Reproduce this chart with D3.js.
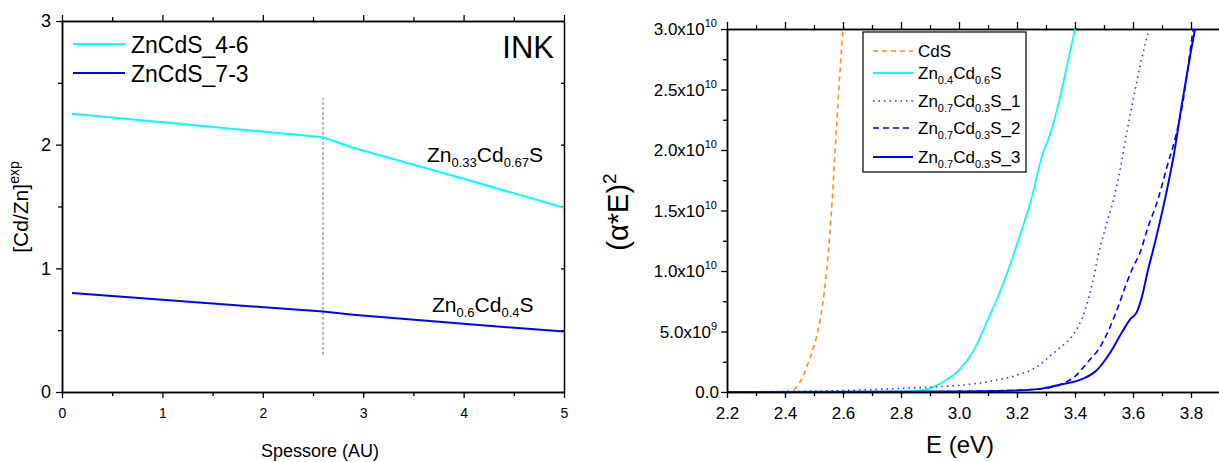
<!DOCTYPE html>
<html><head><meta charset="utf-8">
<script src="https://cdn.jsdelivr.net/npm/d3@7"></script>
<style>body{margin:0;background:#fff} svg{display:block} text{font-family:Arial,"Liberation Sans",sans-serif;fill:#000}</style>
</head><body><svg id="c" width="1219" height="462"></svg>
<script>
// ---------- LEFT CHART DATA ----------
const thickness = [0.1, 2.6, 2.9, 4.0, 5.0];
const ratio46 = [2.25, 2.06, 1.975, 1.725, 1.49];
const ratio73 = [0.80, 0.65, 0.625, 0.551, 0.489];
const leftSeries = ["ZnCdS_4-6", "ZnCdS_7-3"];
const leftXTicks = [0, 1, 2, 3, 4, 5];
const leftYTicks = [0, 1, 2, 3];
const markerX = 2.6, markerY = [0.3, 2.38];

// ---------- RIGHT CHART DATA (values in 1e10 units) ----------
const eCdS = [2.40, 2.42, 2.44, 2.46, 2.48, 2.50, 2.52, 2.54, 2.56, 2.57, 2.58, 2.59, 2.60];
const vCdS = [0, 0.005, 0.04, 0.12, 0.24, 0.38, 0.58, 0.92, 1.48, 1.88, 2.28, 2.66, 3.0];
const eZn4 = [2.2, 2.6, 2.8, 2.86, 2.9, 2.95, 3.0, 3.05, 3.1, 3.15, 3.2, 3.25, 3.29, 3.31, 3.34, 3.37, 3.40];
const vZn4 = [0, 0.003, 0.005, 0.01, 0.03, 0.09, 0.18, 0.34, 0.6, 0.88, 1.22, 1.6, 1.98, 2.1, 2.35, 2.67, 3.0];
const eZn7a = [2.2, 2.4, 2.6, 2.8, 2.9, 3.0, 3.1, 3.2, 3.27, 3.31, 3.35, 3.39, 3.435, 3.46, 3.48, 3.51, 3.538, 3.555, 3.578, 3.6, 3.624, 3.652];
const vZn7a = [0, 0.005, 0.012, 0.03, 0.04, 0.055, 0.085, 0.14, 0.21, 0.29, 0.37, 0.46, 0.68, 0.9, 1.13, 1.4, 1.64, 1.83, 2.14, 2.41, 2.69, 2.97];
const eZn7b = [2.2, 2.8, 3.0, 3.2, 3.3, 3.348, 3.405, 3.445, 3.486, 3.514, 3.548, 3.578, 3.6, 3.624, 3.65, 3.686, 3.717, 3.75, 3.773, 3.79, 3.807];
const vZn7b = [0, 0.002, 0.005, 0.015, 0.03, 0.06, 0.14, 0.25, 0.37, 0.50, 0.70, 0.90, 1.03, 1.15, 1.35, 1.59, 1.86, 2.14, 2.41, 2.69, 3.0];
const eZn7c = [2.2, 2.8, 3.0, 3.2, 3.29, 3.348, 3.428, 3.475, 3.52, 3.561, 3.59, 3.613, 3.631, 3.652, 3.669, 3.71, 3.74, 3.77, 3.80, 3.814];
const vZn7c = [0, 0.002, 0.004, 0.012, 0.03, 0.06, 0.11, 0.18, 0.32, 0.49, 0.60, 0.66, 0.79, 1.01, 1.17, 1.59, 1.95, 2.4, 2.82, 3.0];
const rightXTicks = [2.2, 2.4, 2.6, 2.8, 3.0, 3.2, 3.4, 3.6, 3.8];
const rightYTicks = [0, 0.5, 1.0, 1.5, 2.0, 2.5, 3.0];
const rightYLabels = [["0.0", ""], ["5.0x10", "9"], ["1.0x10", "10"], ["1.5x10", "10"], ["2.0x10", "10"], ["2.5x10", "10"], ["3.0x10", "10"]];
const rightLegend = [
  {parts: [["CdS", 0]]},
  {parts: [["Zn", 0], ["0.4", 1], ["Cd", 0], ["0.6", 1], ["S", 0]]},
  {parts: [["Zn", 0], ["0.7", 1], ["Cd", 0], ["0.3", 1], ["S_1", 0]]},
  {parts: [["Zn", 0], ["0.7", 1], ["Cd", 0], ["0.3", 1], ["S_2", 0]]},
  {parts: [["Zn", 0], ["0.7", 1], ["Cd", 0], ["0.3", 1], ["S_3", 0]]}
];

const svg = d3.select("#c");

function richText(g, x, y, parts, size, subSize, anchor) {
  const t = g.append("text").attr("x", x).attr("y", y).attr("font-size", size);
  if (anchor) t.attr("text-anchor", anchor);
  let prev = 0;
  parts.forEach(([s, k]) => {
    const off = k === 1 ? 5 : (k === 2 ? -8 : 0);
    t.append("tspan").attr("dy", off - prev).attr("font-size", k ? subSize : size).text(s);
    prev = off;
  });
  return t;
}

// ================= LEFT CHART =================
const lx = d3.scaleLinear().domain([0, 5]).range([62, 564]);
const ly = d3.scaleLinear().domain([0, 3]).range([392, 21]);
const L = svg.append("g");

function styleAxis(g) {
  g.selectAll("path.domain").attr("stroke", "#000").attr("stroke-width", 1.5);
  g.selectAll(".tick line").attr("stroke", "#000").attr("stroke-width", 1.3);
}
// bottom
L.append("g").attr("transform", "translate(0,392)")
  .call(d3.axisBottom(lx).tickValues(d3.range(0.5, 5, 1)).tickSize(4).tickFormat("").tickSizeOuter(0)).call(styleAxis);
L.append("g").attr("transform", "translate(0,392)")
  .call(d3.axisBottom(lx).tickValues(leftXTicks).tickSize(6).tickPadding(10).tickFormat(d3.format("d")).tickSizeOuter(0))
  .call(styleAxis).call(g => g.selectAll("text").attr("font-size", 14).attr("font-family", "Arial, Liberation Sans, sans-serif"));
// top
L.append("g").attr("transform", "translate(0,21)")
  .call(d3.axisTop(lx).tickValues(d3.range(0.5, 5, 1)).tickSize(4).tickFormat("").tickSizeOuter(0)).call(styleAxis);
L.append("g").attr("transform", "translate(0,21)")
  .call(d3.axisTop(lx).tickValues(leftXTicks).tickSize(6).tickFormat("").tickSizeOuter(0)).call(styleAxis);
// left
L.append("g").attr("transform", "translate(62,0)")
  .call(d3.axisLeft(ly).tickValues(d3.range(0.5, 3, 1)).tickSize(4).tickFormat("").tickSizeOuter(0)).call(styleAxis);
L.append("g").attr("transform", "translate(62,0)")
  .call(d3.axisLeft(ly).tickValues(leftYTicks).tickSize(6).tickPadding(5).tickFormat(d3.format("d")).tickSizeOuter(0))
  .call(styleAxis).call(g => g.selectAll("text").attr("font-size", 18).attr("font-family", "Arial, Liberation Sans, sans-serif"));
// right (inward ticks)
L.append("g").attr("transform", "translate(564,0)")
  .call(d3.axisLeft(ly).tickValues(d3.range(0, 3.01, 0.5)).tickSize(3).tickFormat("").tickSizeOuter(0)).call(styleAxis);

// vertical marker
L.append("line").attr("x1", lx(markerX)).attr("x2", lx(markerX)).attr("y1", ly(markerY[0])).attr("y2", ly(markerY[1]))
  .attr("stroke", "#777").attr("stroke-width", 1).attr("stroke-dasharray", "3,2");

const lline = d3.line().x((d, i) => lx(thickness[i])).y(d => ly(d));
L.append("path").attr("d", lline(ratio46)).attr("fill", "none").attr("stroke", "#00ffff").attr("stroke-width", 2);
L.append("path").attr("d", lline(ratio73)).attr("fill", "none").attr("stroke", "#0000ff").attr("stroke-width", 2);

// legend
const lcol = ["#00ffff", "#0000ff"];
leftSeries.forEach((s, i) => {
  const yy = 44 + i * 29;
  L.append("line").attr("x1", 73).attr("x2", 125).attr("y1", yy).attr("y2", yy).attr("stroke", lcol[i]).attr("stroke-width", 2);
  L.append("text").attr("x", 131).attr("y", yy + 9).attr("font-size", 23).text(s);
});
L.append("text").attr("x", 554).attr("y", 58).attr("text-anchor", "end").attr("font-size", 31).text("INK");
richText(L, 427, 162, [["Zn", 0], ["0.33", 1], ["Cd", 0], ["0.67", 1], ["S", 0]], 21, 13);
richText(L, 432, 312, [["Zn", 0], ["0.6", 1], ["Cd", 0], ["0.4", 1], ["S", 0]], 21, 13);

L.append("text").attr("x", 320).attr("y", 457).attr("text-anchor", "middle").attr("font-size", 18).text("Spessore (AU)");
const ylab = L.append("text").attr("transform", "translate(28,207) rotate(-90)").attr("text-anchor", "middle").attr("font-size", 21);
ylab.append("tspan").text("[Cd/Zn]");
ylab.append("tspan").attr("dy", -9).attr("font-size", 14).text("exp");

// ================= RIGHT CHART =================
const rx = d3.scaleLinear().domain([2.2, 3.9]).range([727, 1220]);
const ry = d3.scaleLinear().domain([0, 3]).range([392, 29]);
const R = svg.append("g");
svg.append("defs").append("clipPath").attr("id", "rclip").append("rect")
  .attr("x", 727).attr("y", 29).attr("width", 495).attr("height", 363);

// bottom
R.append("g").attr("transform", "translate(0,392)")
  .call(d3.axisBottom(rx).tickValues(d3.range(2.3, 3.95, 0.2)).tickSize(4).tickFormat("").tickSizeOuter(0)).call(styleAxis);
R.append("g").attr("transform", "translate(0,392)")
  .call(d3.axisBottom(rx).tickValues(rightXTicks).tickSize(6).tickPadding(9).tickFormat(d3.format(".1f")).tickSizeOuter(0))
  .call(styleAxis).call(g => g.selectAll("text").attr("font-size", 17).attr("font-family", "Arial, Liberation Sans, sans-serif"));
// top
R.append("g").attr("transform", "translate(0,29)")
  .call(d3.axisTop(rx).tickValues(d3.range(2.3, 3.95, 0.2)).tickSize(4).tickFormat("").tickSizeOuter(0)).call(styleAxis);
R.append("g").attr("transform", "translate(0,29)")
  .call(d3.axisTop(rx).tickValues(rightXTicks).tickSize(7).tickFormat("").tickSizeOuter(0)).call(styleAxis);
// left
R.append("g").attr("transform", "translate(727,0)")
  .call(d3.axisLeft(ry).tickValues(d3.range(0.25, 3, 0.5)).tickSize(4).tickFormat("").tickSizeOuter(0)).call(styleAxis);
R.append("g").attr("transform", "translate(727,0)")
  .call(d3.axisLeft(ry).tickValues(rightYTicks).tickSize(6).tickFormat("").tickSizeOuter(0)).call(styleAxis);
rightYTicks.forEach((v, i) => {
  const [m, sup] = rightYLabels[i];
  const t = R.append("text").attr("x", sup ? 717 : 719).attr("y", ry(v) + 6).attr("text-anchor", "end").attr("font-size", 17);
  t.append("tspan").text(m);
  if (sup) t.append("tspan").attr("dy", -8).attr("font-size", 11).text(sup);
});

const rline = (E) => d3.line().curve(d3.curveMonotoneX).x((d, i) => rx(E[i])).y(d => ry(d));
const series = [
  {E: eCdS, V: vCdS, color: "#ff8c1a", dash: "5,4", w: 1.6},
  {E: eZn4, V: vZn4, color: "#00ffff", dash: null, w: 1.8},
  {E: eZn7a, V: vZn7a, color: "#3333ff", dash: "1.5,4", w: 1.6},
  {E: eZn7b, V: vZn7b, color: "#0000ff", dash: "6,4", w: 1.6},
  {E: eZn7c, V: vZn7c, color: "#0000ff", dash: null, w: 2}
];
const plot = R.append("g").attr("clip-path", "url(#rclip)");
series.forEach(s => {
  const p = plot.append("path").attr("d", rline(s.E)(s.V)).attr("fill", "none")
    .attr("stroke", s.color).attr("stroke-width", s.w);
  if (s.dash) p.attr("stroke-dasharray", s.dash);
});

// legend
R.append("rect").attr("x", 863).attr("y", 32).attr("width", 163).attr("height", 140)
  .attr("fill", "#fff").attr("stroke", "#000").attr("stroke-width", 1.2);
const legY = [51, 73, 101, 128, 157];
rightLegend.forEach((e, i) => {
  const s = series[i];
  const l = R.append("line").attr("x1", 873).attr("x2", 913).attr("y1", legY[i]).attr("y2", legY[i])
    .attr("stroke", s.color).attr("stroke-width", s.w);
  if (s.dash) l.attr("stroke-dasharray", s.dash);
  richText(R, 918, legY[i] + 6, e.parts, 17, 11);
});

R.append("text").attr("x", 960).attr("y", 453).attr("text-anchor", "middle").attr("font-size", 24).text("E (eV)");
const rylab = R.append("text").attr("transform", "translate(628,212) rotate(-90)").attr("text-anchor", "middle").attr("font-size", 29);
rylab.append("tspan").text("(\u03b1*E)");
rylab.append("tspan").attr("dy", -12).attr("font-size", 19).text("2");
</script></body></html>
